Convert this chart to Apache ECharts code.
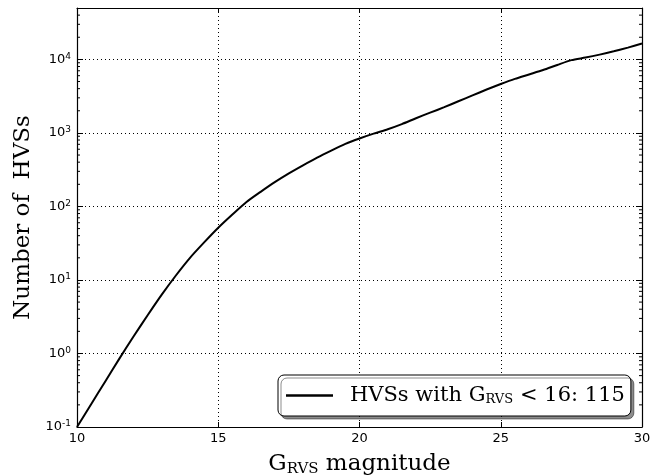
<!DOCTYPE html>
<html>
<head>
<meta charset="utf-8">
<script src="https://cdn.jsdelivr.net/npm/echarts@6/dist/echarts.min.js"></script>
<style>html,body{margin:0;padding:0;background:#fff}#c{width:664px;height:476px}</style>
</head>
<body>
<div id="c"></div>
<script>
const magnitudes = [10, 10.5, 11, 11.5, 12, 12.5, 13, 13.5, 14, 14.5, 15, 15.5, 16, 16.5, 17, 17.5, 18, 18.5, 19, 19.5, 20, 20.5, 21, 21.5, 22, 22.5, 23, 23.5, 24, 24.5, 25, 25.5, 26, 26.5, 27, 27.5, 28, 28.5, 29, 29.5, 30];
const hvsCounts = [0.1, 0.204, 0.417, 0.851, 1.70, 3.31, 6.31, 11.5, 20.0, 32.4, 51.3, 77.6, 115, 158, 214, 282, 363, 462, 575, 708, 840, 977, 1122, 1318, 1585, 1884, 2239, 2692, 3236, 3890, 4624, 5433, 6237, 7161, 8400, 9772, 10593, 11614, 12882, 14454, 16406];
const xTicks = [10, 15, 20, 25, 30];
const yTickExponents = [-1, 0, 1, 2, 3, 4];
const xMin = 10, xMax = 30, yMin = 0.1, yMax = 50000;

const minorVals = [];
for (let e = -1; e <= 4; e++) for (let k = 2; k <= 9; k++) { const v = k * Math.pow(10, e); if (v < yMax) minorVals.push(v); }

const serif = '"DejaVu Serif", "Liberation Serif", serif';
const sans = '"DejaVu Sans", sans-serif';
const tickRich = {
  b: { fontSize: 13, fontFamily: sans, color: '#000' },
  s: { fontSize: 9, fontFamily: sans, color: '#000', verticalAlign: 'top', padding: [0, 0, 6, 0] }
};
function yFmt(v) {
  const l = Math.log10(v), e = Math.round(l);
  if (Math.abs(l - e) > 1e-6 || yTickExponents.indexOf(e) < 0) return '';
  return '{b|10}{s|' + e + '}';
}

const chart = echarts.init(document.getElementById('c'));
const axisLineStyle = { show: true, lineStyle: { color: '#000', width: 1.2 } };
const splitStyle = { show: true, lineStyle: { color: '#000', width: 1, type: [1, 3] } };

chart.setOption({
  animation: false,
  backgroundColor: '#fff',
  grid: { left: 77, right: 22, top: 8, bottom: 49, outerBoundsMode: 'none', containLabel: false },
  legend: {
    data: ['hvs'],
    left: 278, top: 375,
    padding: [10, 6, 10, 8],
    itemGap: 10,
    itemWidth: 47, itemHeight: 2.5, icon: 'rect',
    backgroundColor: '#fff', borderColor: '#000', borderWidth: 1, borderRadius: 6,
    shadowColor: 'rgba(0,0,0,0.45)', shadowOffsetX: 3, shadowOffsetY: 3, shadowBlur: 0,
    formatter: () => 'HVSs with G{sub|RVS}{n|< 16: 115}',
    textStyle: {
      fontSize: 21, fontFamily: serif, color: '#000', padding: [0, 0, 0, 12],
      rich: {
        sub: { fontSize: 13, fontFamily: serif, color: '#000', verticalAlign: 'bottom', padding: [8, 7, 0, 0] },
        n: { fontSize: 21, fontFamily: serif, color: '#000' }
      }
    }
  },
  xAxis: [{
    type: 'value', min: xMin, max: xMax, interval: 5,
    axisLine: axisLineStyle,
    axisTick: { inside: true, length: 5, lineStyle: { color: '#000' } },
    axisLabel: { fontSize: 13, fontFamily: sans, color: '#000', margin: 5,
      formatter: v => xTicks.indexOf(v) >= 0 ? String(v) : '' },
    splitLine: splitStyle,
    name: 'G{sub|RVS} magnitude', nameLocation: 'middle', nameGap: 25,
    nameTextStyle: { fontSize: 23, fontFamily: serif, color: '#000',
      rich: { sub: { fontSize: 15, fontFamily: serif, color: '#000', verticalAlign: 'bottom', padding: [10, 0, 0, 0] } } }
  }, {
    type: 'value', min: xMin, max: xMax, interval: 5, position: 'top',
    axisLine: axisLineStyle,
    axisTick: { inside: true, length: 5, lineStyle: { color: '#000' } },
    axisLabel: { show: false }, splitLine: { show: false }
  }],
  yAxis: [{
    type: 'log', logBase: 10, min: yMin, max: yMax,
    axisLine: axisLineStyle,
    axisTick: { inside: true, length: 6, lineStyle: { color: '#000' } },
    axisLabel: { formatter: yFmt, rich: tickRich, margin: 6 },
    splitLine: splitStyle,
    name: 'Number of  HVSs', nameLocation: 'middle', nameGap: 42, nameRotate: 90,
    nameTextStyle: { fontSize: 23, fontFamily: serif, color: '#000' }
  }, {
    type: 'log', logBase: 10, min: yMin, max: yMax, position: 'right',
    axisLine: axisLineStyle,
    axisTick: { inside: true, length: 6, lineStyle: { color: '#000' } },
    axisLabel: { show: false }, splitLine: { show: false }
  }],
  series: [{
    name: 'hvs', type: 'line', xAxisIndex: 0, yAxisIndex: 0,
    data: magnitudes.map((m, i) => [m, hvsCounts[i]]),
    showSymbol: false, symbol: 'none', smooth: 0.25,
    lineStyle: { color: '#000', width: 2 }, itemStyle: { color: '#000' }, z: 5
  }, {
    name: 'minor', type: 'custom', xAxisIndex: 0, yAxisIndex: 0, silent: true,
    data: minorVals.map(v => [v]),
    renderItem: function (params, api) {
      const v = api.value(0);
      const pL = api.coord([xMin, v]);
      const pR = api.coord([xMax, v]);
      return { type: 'group', children: [
        { type: 'line', shape: { x1: pL[0], y1: pL[1], x2: pL[0] + 3, y2: pL[1] }, style: { stroke: '#000', lineWidth: 1 } },
        { type: 'line', shape: { x1: pR[0], y1: pR[1], x2: pR[0] - 3, y2: pR[1] }, style: { stroke: '#000', lineWidth: 1 } }
      ] };
    },
    encode: { y: 0 }
  }]
});
</script>
</body>
</html>
